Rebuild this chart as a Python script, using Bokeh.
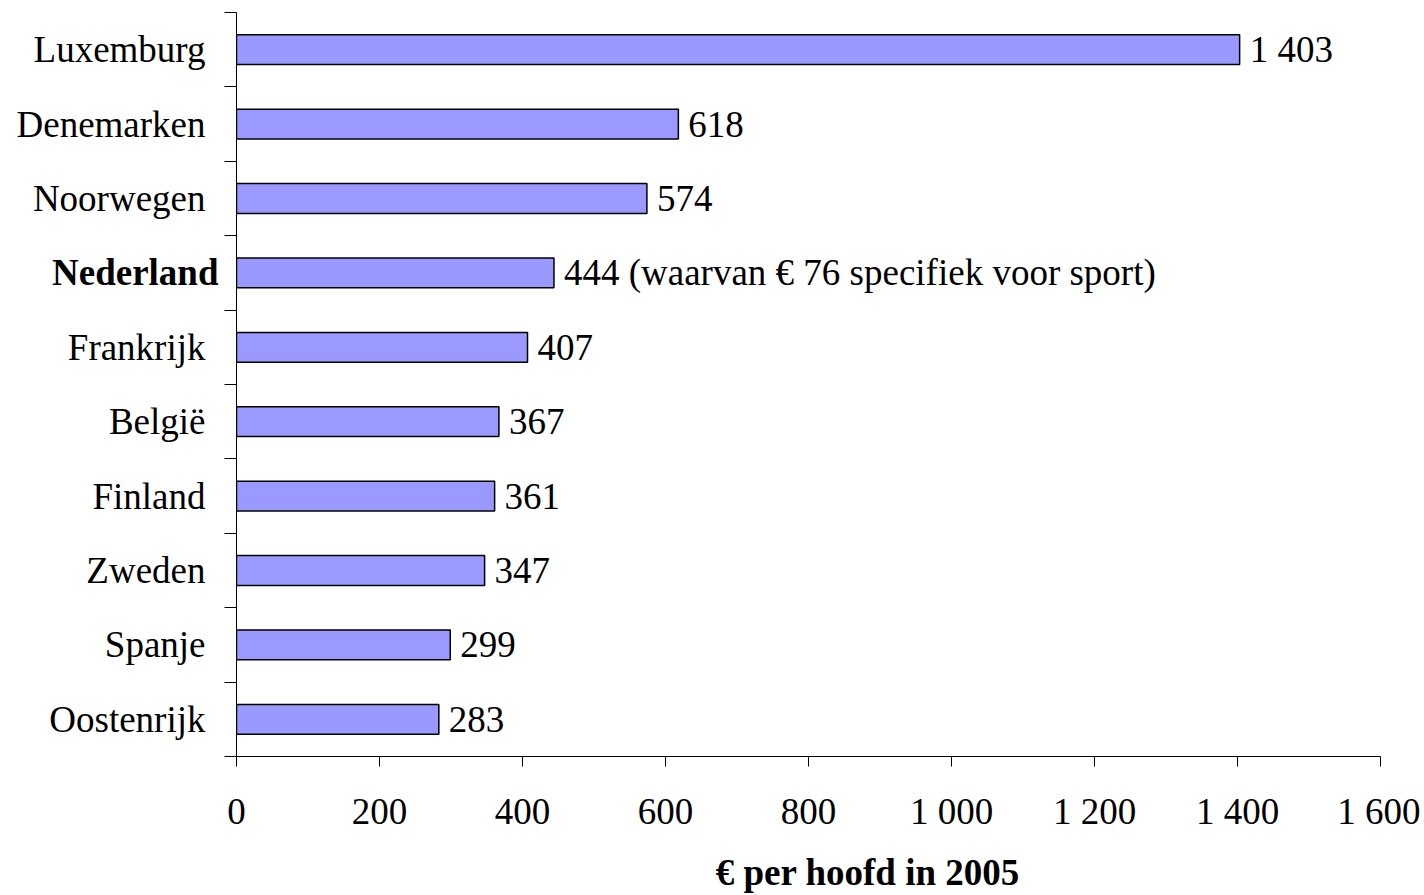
from bokeh.plotting import figure
from bokeh.layouts import row
from bokeh.models import FixedTicker, Label, ColumnDataSource, Range1d
from bokeh.core.properties import value
from bokeh.embed import file_html
from bokeh.resources import INLINE

countries = ["Luxemburg", "Denemarken", "Noorwegen", "Nederland", "Frankrijk",
             "België", "Finland", "Zweden", "Spanje", "Oostenrijk"]
values = [1403, 618, 574, 444, 407, 367, 361, 347, 299, 283]
notes = ["", "", "", " (waarvan € 76 specifiek voor sport)", "", "", "", "", "", ""]
highlight = "Nederland"
x_ticks = [0, 200, 400, 600, 800, 1000, 1200, 1400, 1600]
x_title = "€ per hoofd in 2005"

FONT = "Liberation Serif"
FS = "37px"
# position of the x-axis title (data units)
TITLE_X = 883
TITLE_Y = -1.565

def fmt(v):
    return f"{v:,}".replace(",", " ")

n = len(countries)
ypos = [n - 1 - i + 0.5 for i in range(n)]
labels = [fmt(v) + note for v, note in zip(values, notes)]
yr = Range1d(0, n)

# ---- left strip with category labels ----
lab_src = ColumnDataSource(dict(
    x=[1] * n, y=ypos, t=countries,
    style=["bold" if c == highlight else "normal" for c in countries],
    off=[-6 if c == highlight else -19 for c in countries]))

f1 = figure(width=224, height=895, x_range=(0, 1), y_range=yr,
            output_backend="svg", toolbar_location=None,
            x_axis_type=None, y_axis_type=None,
            min_border_left=0, min_border_right=0, min_border_top=12,
            min_border_bottom=139)
f1.outline_line_color = None
f1.xgrid.grid_line_color = None
f1.ygrid.grid_line_color = None
f1.text(x="x", y="y", text="t", source=lab_src, x_offset="off",
        text_font=value(FONT), text_font_size=FS, text_font_style="style",
        text_align="right", text_baseline="middle", text_color="black")

# ---- main chart ----
src = ColumnDataSource(dict(y=ypos, v=values, lab=labels))

p = figure(width=1196, height=895, x_range=(0, 1600), y_range=yr,
           output_backend="svg", toolbar_location=None,
           min_border_left=12, min_border_right=40, min_border_top=12,
           min_border_bottom=139)
p.outline_line_color = None
p.xgrid.grid_line_color = None
p.ygrid.grid_line_color = None
p.background_fill_color = "white"
p.border_fill_color = "white"

p.hbar(y="y", right="v", left=0, height=0.4, source=src,
       fill_color="#9999FF", line_color="black", line_width=1.5)
p.text(x="v", y="y", text="lab", source=src, x_offset=10,
       text_font=value(FONT), text_font_size=FS, text_baseline="middle",
       text_align="left", text_color="black")

# x axis
xa = p.xaxis[0]
xa.ticker = FixedTicker(ticks=x_ticks, minor_ticks=[])
xa.major_label_overrides = {t: fmt(t) for t in x_ticks}
xa.major_tick_in = 0
xa.major_tick_out = 10
xa.minor_tick_line_color = None
xa.major_label_standoff = 24
xa.major_label_text_font = FONT
xa.major_label_text_font_size = FS
xa.major_label_text_color = "black"
xa.axis_line_color = "black"
xa.major_tick_line_color = "black"

# y axis: line and separator ticks only (labels are in the left strip)
ya = p.yaxis[0]
ya.ticker = FixedTicker(ticks=[], minor_ticks=list(range(n + 1)))
ya.major_label_text_font_size = "0px"
ya.major_label_standoff = 0
ya.major_tick_line_color = None
ya.major_tick_in = 0
ya.major_tick_out = 0
ya.minor_tick_in = 0
ya.minor_tick_out = 12
ya.minor_tick_line_color = "black"
ya.axis_line_color = "black"

p.add_layout(Label(x=TITLE_X, y=TITLE_Y, text=x_title,
                   text_align="center", text_baseline="middle",
                   text_font=FONT, text_font_size=FS, text_font_style="bold",
                   text_color="black"), "below")

layout = row(f1, p, spacing=0)
open("out.html", "w").write(file_html(layout, INLINE))
